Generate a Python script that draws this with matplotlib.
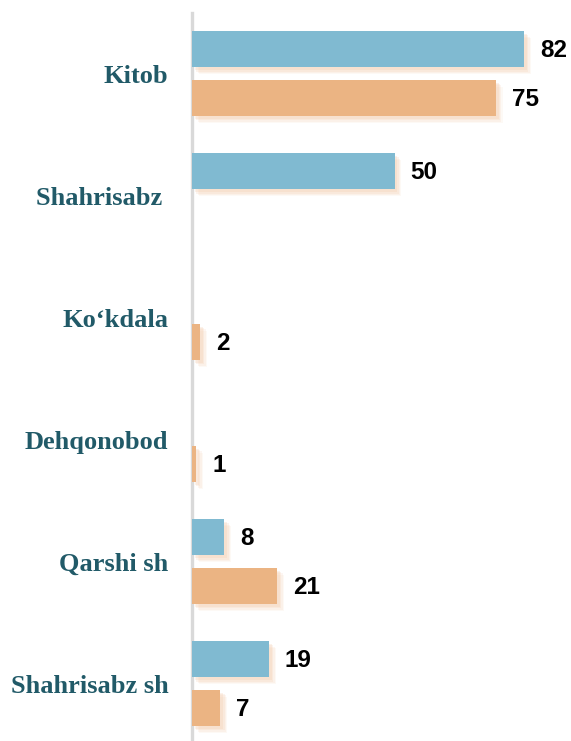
import matplotlib
matplotlib.use("Agg")
import matplotlib.pyplot as plt
import matplotlib.patheffects as pe
import numpy as np

categories = ["Kitob", "Shahrisabz ", "Ko\u2018kdala", "Dehqonobod", "Qarshi sh", "Shahrisabz sh"]
series_blue = [82, 50, 0, 0, 8, 19]
series_orange = [75, 0, 2, 1, 21, 7]

blue = "#80bad1"
orange = "#ebb483"
label_color = "#215a68"

W, H = 571, 741
fig = plt.figure(figsize=(W / 100, H / 100), dpi=100)
ax = fig.add_axes([192 / W, 0, 1 - 192 / W, (H - 13) / H])

y = np.arange(len(categories))
off = 0.2
h = 0.298
shadow = [pe.SimplePatchShadow(offset=(d, -d), shadow_rgbFace="#f2c6a3", alpha=a)
          for d, a in [(5, 0.10), (4, 0.14), (3, 0.18), (2, 0.22)]] + [pe.Normal()]

for vals, sign, col in [(series_blue, -1, blue), (series_orange, 1, orange)]:
    bars = ax.barh(y + sign * off, vals, height=h, color=col, zorder=3)
    for b, v in zip(bars, vals):
        if v > 0:
            b.set_path_effects(shadow)
            ax.annotate(str(v), (v, b.get_y() + b.get_height() / 2), xytext=(16, -1),
                        textcoords="offset pixels", va="center", ha="left",
                        fontsize=17.5, fontweight="bold", family="Liberation Sans", color="black")

ax.set_xlim(0, (W - 192) / 4.05)
ax.set_ylim((H - 73.7) / 122, (13 - 73.7) / 122)

ax.set_yticks(y)
ax.set_yticklabels(categories, fontsize=19, fontweight="bold", family="Liberation Serif", color=label_color)
ax.tick_params(axis="y", length=0, pad=17)
ax.set_xticks([])
for s in ["top", "right", "bottom"]:
    ax.spines[s].set_visible(False)
ax.spines["left"].set_color("#d9d9d9")
ax.spines["left"].set_linewidth(2.4)
ax.patch.set_alpha(0)

fig.savefig("out.png", dpi=100, facecolor="white")
